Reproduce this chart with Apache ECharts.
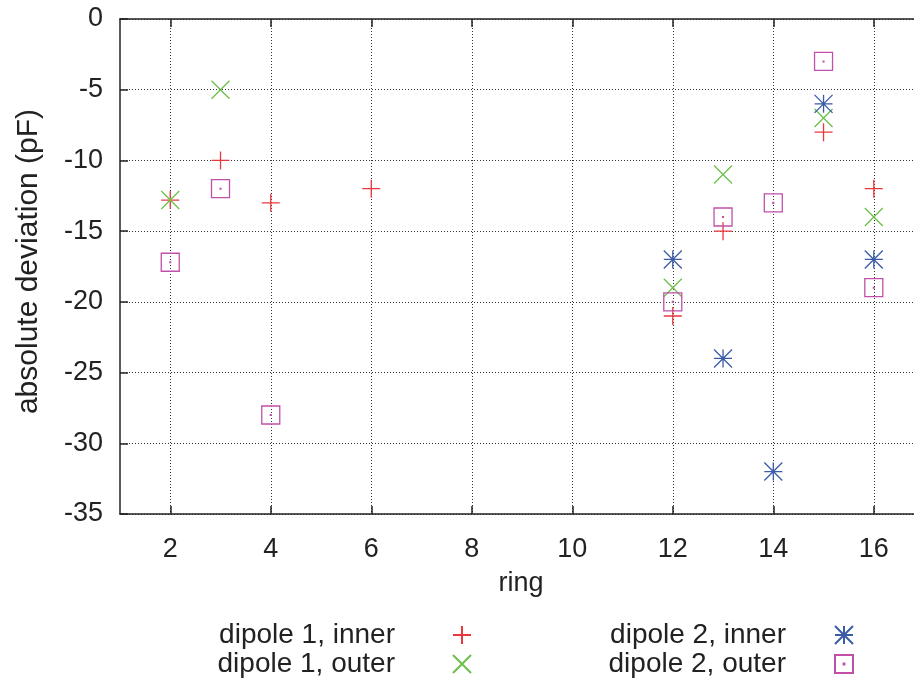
<!DOCTYPE html>
<html>
<head>
<meta charset="utf-8">
<script src="https://cdn.jsdelivr.net/npm/echarts@6/dist/echarts.min.js"></script>
<style>html,body{margin:0;padding:0;background:#fff}#c{width:914px;height:679px}</style>
</head>
<body>
<div id="c"></div>
<script>
// data
var xTicks = [2, 4, 6, 8, 10, 12, 14, 16];
var yTicks = [0, -5, -10, -15, -20, -25, -30, -35];
var seriesNames = ['dipole 1, inner', 'dipole 1, outer', 'dipole 2, inner', 'dipole 2, outer'];
var d1InnerRing = [2, 3, 4, 6, 12, 13, 15, 16];
var d1InnerDev  = [-12.8, -10, -13, -12, -21, -15, -8, -12];
var d1OuterRing = [2, 3, 12, 13, 15, 16];
var d1OuterDev  = [-12.8, -5, -19, -11, -7, -14];
var d2InnerRing = [12, 13, 14, 15, 16];
var d2InnerDev  = [-17, -24, -32, -6, -17];
var d2OuterRing = [2, 3, 4, 12, 13, 14, 15, 16];
var d2OuterDev  = [-17.2, -12, -28, -20, -14, -13, -3, -19];

function pairs(xs, ys) { return xs.map(function (x, i) { return [x, ys[i]]; }); }

var FONT = 'Liberation Sans, Arial, Helvetica, sans-serif';
var colors = ['#e8383d', '#6dbf4b', '#3a5ba8', '#c050a8'];
var symbols = [
  'path://M0,9L18,9M9,0L9,18',
  'path://M0,0L18,18M18,0L0,18',
  'path://M0,9L18,9M9,0L9,18M0,0L18,18M18,0L0,18',
  'path://M0,0L18,0L18,18L0,18ZM8.6,8.6L9.4,8.6L9.4,9.4L8.6,9.4Z'
];
var dataSets = [
  pairs(d1InnerRing, d1InnerDev),
  pairs(d1OuterRing, d1OuterDev),
  pairs(d2InnerRing, d2InnerDev),
  pairs(d2OuterRing, d2OuterDev)
];

var series = seriesNames.map(function (name, i) {
  return {
    name: name,
    type: 'scatter',
    data: dataSets[i],
    symbol: symbols[i],
    symbolSize: 18,
    itemStyle: { color: 'rgba(0,0,0,0)', borderColor: colors[i], borderWidth: 1.3, opacity: 1 },
    emphasis: { disabled: true },
    z: 3
  };
});

var axisText = { color: '#222', fontSize: 27, fontFamily: FONT };
function legendCfg(names, right, pad) {
  return {
    data: names,
    right: right,
    top: 621,
    orient: 'vertical',
    align: 'right',
    itemWidth: 18,
    itemHeight: 18,
    itemGap: 1,
    padding: 0,
    selectedMode: false,
    textStyle: { color: '#222', fontSize: 28, fontFamily: FONT, lineHeight: 26, padding: [0, pad, 0, 0] }
  };
}

var option = {
  backgroundColor: '#fff',
  animation: false,
  color: colors,
  grid: { left: 120, top: 19, width: 794, height: 495, containLabel: false },
  legend: [
    legendCfg([seriesNames[0], seriesNames[1]], 442, 53),
    legendCfg([seriesNames[2], seriesNames[3]], 60, 44)
  ],
  xAxis: [{
    type: 'value', min: 1, max: 16.8, interval: 1,
    name: 'ring', nameLocation: 'middle', nameGap: 56,
    nameTextStyle: { color: '#222', fontSize: 27, fontFamily: FONT, padding: [0, 0, 0, 8] },
    axisLine: { show: true, onZero: false, lineStyle: { color: '#222', width: 1.5 } },
    axisTick: { show: true, inside: true, length: 8, lineStyle: { color: '#222', width: 1.5 },
      customValues: xTicks },
    axisLabel: { show: true, margin: 22, color: '#222', fontSize: 27, fontFamily: FONT,
      customValues: xTicks, formatter: function (v) { return String(v); } },
    splitLine: { show: true, lineStyle: { color: '#333', width: 1, type: [1, 2] } }
  }, {
    type: 'value', min: 1, max: 16.8, interval: 1, position: 'top',
    axisLine: { show: true, onZero: false, lineStyle: { color: '#222', width: 1.5 } },
    axisTick: { show: true, inside: true, length: 8, lineStyle: { color: '#222', width: 1.5 },
      customValues: xTicks },
    axisLabel: { show: false },
    splitLine: { show: false }
  }],
  yAxis: {
    type: 'value', min: -35, max: 0, interval: 5,
    name: 'absolute deviation (pF)', nameLocation: 'middle', nameGap: 76,
    nameTextStyle: { color: '#222', fontSize: 30, fontFamily: FONT, padding: [0, 0, 0, 10] },
    axisLine: { show: true, onZero: false, lineStyle: { color: '#222', width: 1.5 } },
    axisTick: { show: true, inside: true, length: 8, lineStyle: { color: '#222', width: 1.5 } },
    axisLabel: { margin: 17, color: '#222', fontSize: 27, fontFamily: FONT,
      customValues: yTicks },
    splitLine: { show: true, lineStyle: { color: '#333', width: 1, type: [1, 2] } }
  },
  series: series
};

var chart = echarts.init(document.getElementById('c'), null, { renderer: 'canvas' });
chart.setOption(option);
</script>
</body>
</html>
